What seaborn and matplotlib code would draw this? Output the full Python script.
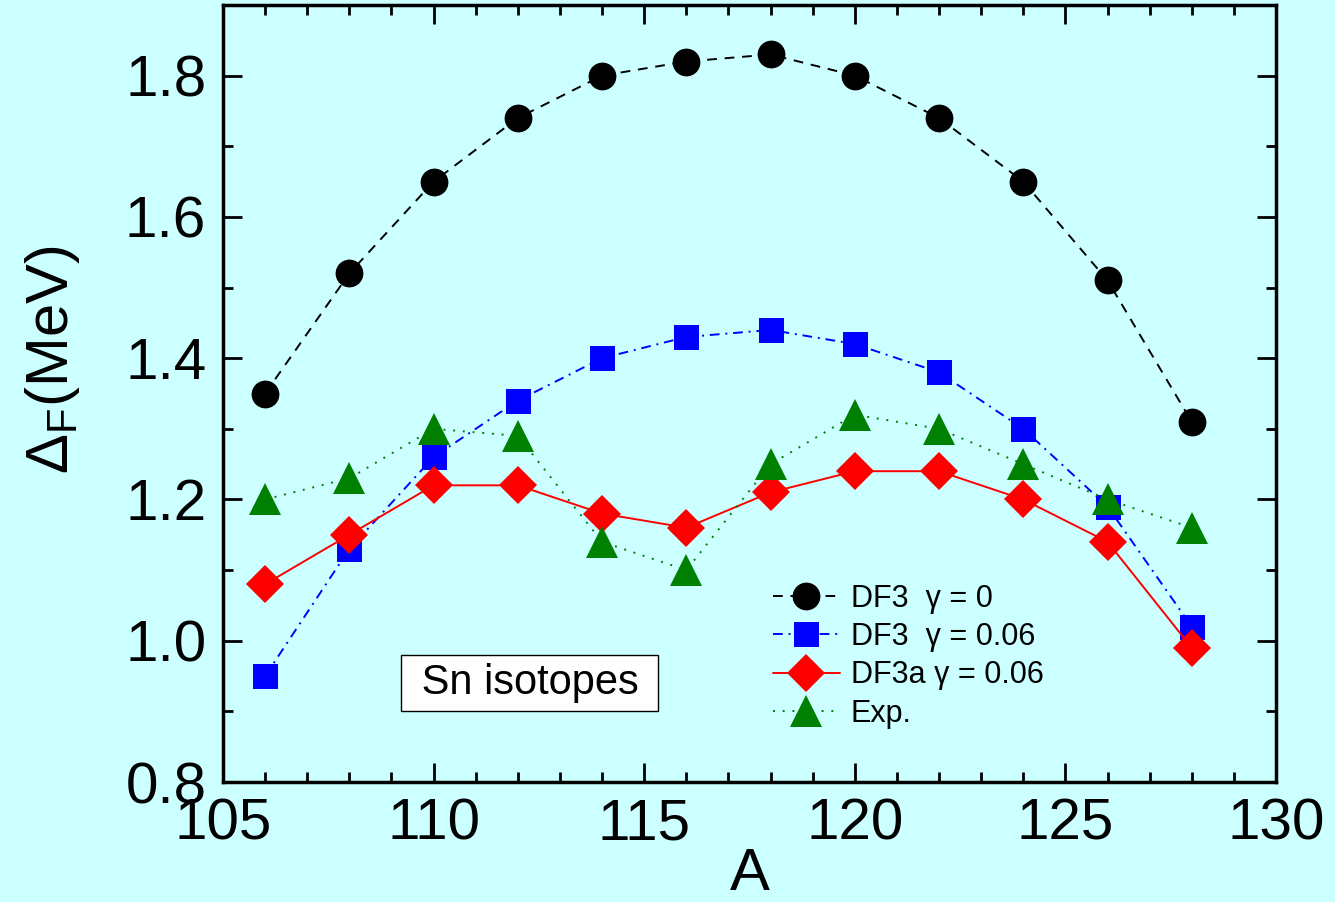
import numpy as np
import pandas as pd
import seaborn as sns
import matplotlib
matplotlib.use("Agg")
import matplotlib.pyplot as plt
from matplotlib.ticker import MultipleLocator

# ---- data ----
A = [106, 108, 110, 112, 114, 116, 118, 120, 122, 124, 126, 128]
df3_g0 = [1.35, 1.52, 1.65, 1.74, 1.80, 1.82, 1.83, 1.80, 1.74, 1.65, 1.51, 1.31]
df3_g006 = [0.95, 1.13, 1.26, 1.34, 1.40, 1.43, 1.44, 1.42, 1.38, 1.30, 1.19, 1.02]
df3a_g006 = [1.08, 1.15, 1.22, 1.22, 1.18, 1.16, 1.21, 1.24, 1.24, 1.20, 1.14, 0.99]
exp_vals = [1.20, 1.23, 1.30, 1.29, 1.14, 1.10, 1.25, 1.32, 1.30, 1.25, 1.20, 1.16]
labels = ["DF3  \u03b3 = 0", "DF3  \u03b3 = 0.06", "DF3a \u03b3 = 0.06", "Exp."]
x_ticks = [105, 110, 115, 120, 125, 130]
y_ticks = [0.8, 1.0, 1.2, 1.4, 1.6, 1.8]

sns.set_theme(style="ticks")
plt.rcParams["font.family"] = ["Liberation Sans", "DejaVu Sans"]
plt.rcParams["mathtext.fontset"] = "custom"
plt.rcParams["mathtext.rm"] = "Liberation Sans"
plt.rcParams["mathtext.it"] = "Liberation Sans:italic"
for k in ["text.color", "axes.labelcolor", "xtick.color", "ytick.color", "axes.edgecolor"]:
    plt.rcParams[k] = "black"

bg = "#CCFFFF"
fig = plt.figure(figsize=(13.35, 9.02), dpi=100, facecolor=bg)
ax = fig.add_axes([223 / 1335, 1 - 782 / 902, (1276 - 223) / 1335, (782 - 5) / 902])
ax.set_facecolor(bg)

series = [
    (df3_g0, "black", "o", 20, (0, (5, 4))),
    (df3_g006, "#0000FF", "s", 18, (0, (5, 3, 1, 3))),
    (df3a_g006, "#FF0000", "D", 19, "-"),
    (exp_vals, "#008000", "^", 23, (0, (1, 4))),
]
for (vals, col, mk, ms, ls), lab in zip(series, labels):
    d = pd.DataFrame({"A": A, "val": vals})
    sns.lineplot(data=d, x="A", y="val", ax=ax, color=col, marker=mk,
                 markersize=ms, markeredgewidth=0, linestyle=ls, lw=1.4,
                 label=lab)

ax.set_xlim(105, 130)
ax.set_ylim(0.8, 1.9)
ax.set_xticks(x_ticks)
ax.set_yticks(y_ticks)
ax.set_yticklabels([f"{v:.1f}" for v in y_ticks])
ax.xaxis.set_minor_locator(MultipleLocator(1))
ax.yaxis.set_minor_locator(MultipleLocator(0.1))
ax.tick_params(which="both", direction="in", top=True, right=True, width=2, color="black")
ax.tick_params(which="major", length=14)
ax.tick_params(which="minor", length=7)
ax.tick_params(axis="x", which="major", labelsize=42, pad=11, labelcolor="black")
ax.tick_params(axis="y", which="major", labelsize=42, pad=12, labelcolor="black")
for s in ax.spines.values():
    s.set_linewidth(2.5)
    s.set_color("black")

ax.set_xlabel("A", fontsize=43, labelpad=-3)
ax.set_ylabel(r"$\Delta_\mathrm{F}$(MeV)", fontsize=43, labelpad=31)
ax.yaxis.label.set_y(0.543)

leg = ax.legend(loc="upper left", bbox_to_anchor=(0.522, 0.255), frameon=False,
                fontsize=22, handlelength=2.2, handletextpad=0.35,
                labelspacing=0.27, borderpad=0, borderaxespad=0)

ax.text(0.2915, 0.1274, " Sn isotopes ", transform=ax.transAxes, fontsize=30,
        ha="center", va="center",
        bbox=dict(boxstyle="square,pad=0.2", facecolor="white", edgecolor="black", lw=1))

fig.savefig("out.png", dpi=100, facecolor=bg)
